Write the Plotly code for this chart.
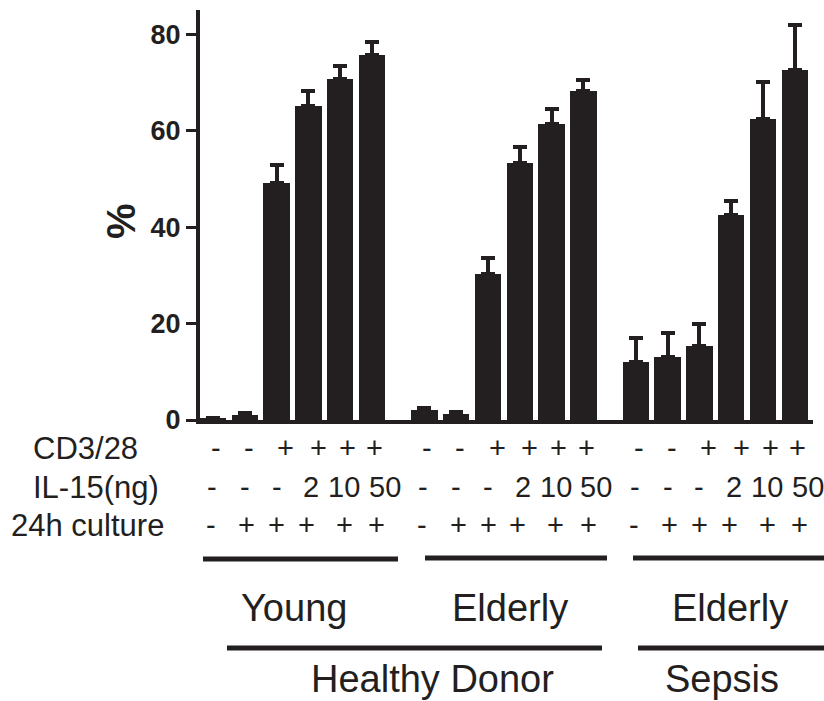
import plotly.graph_objects as go

# ---- data ----
groups = ["Young", "Elderly", "Elderly"]
values = [0.4, 1.0, 49.2, 65.1, 70.6, 75.6,
          2.0, 1.3, 30.3, 53.2, 61.4, 68.2,
          12.1, 13.1, 15.4, 42.4, 62.3, 72.5]
err_up = [0.0, 0.5, 3.6, 3.2, 2.8, 2.7,
          0.5, 0.4, 3.2, 3.5, 3.1, 2.3,
          4.9, 4.9, 4.4, 2.9, 7.7, 9.3]
cd3_row = ["-", "-", "+", "+", "+", "+"] * 3
il15_row = ["-", "-", "-", "2", "10", "50"] * 3
culture_row = ["-", "+", "+", "+", "+", "+"] * 3
row_labels = ["CD3/28", "IL-15(ng)", "24h culture"]
y_ticks = [0, 20, 40, 60, 80]
donor_labels = ["Healthy Donor", "Sepsis"]

# ---- layout helpers ----
GROUP_STEP = 6.65
x_pos = [g * GROUP_STEP + j for g in range(3) for j in range(6)]

W, H = 824, 701
L, T = 200, 10
R = W - 813
B = H - 420
PW, PH = W - L - R, H - T - B
def px(xp):   # page x -> paper
    return (xp - L) / PW
def py(yp):   # page y -> paper
    return (H - B - yp) / PH

INK = "#231f20"
FONT = "Liberation Sans, Arial, sans-serif"

fig = go.Figure()
fig.add_trace(go.Bar(
    x=x_pos, y=values, width=0.83,
    marker=dict(color=INK, line=dict(width=0)),
    error_y=dict(type="data", array=err_up, arrayminus=[0] * len(values),
                 symmetric=False, color=INK, thickness=4, width=7),
    showlegend=False, hoverinfo="skip",
))

ann = []
# row labels
for lab, yp, cx in zip(row_labels, [448, 487.5, 525], [85, 96, 88]):
    ann.append(dict(x=px(cx), y=py(yp), xref="paper", yref="paper", text=lab,
                    showarrow=False, xanchor="center", yanchor="middle",
                    font=dict(family=FONT, size=31, color=INK)))
# table symbols (per-column pixel nudges as in the original typesetting)
row_specs = [
    (cd3_row, 448, [3, 4, 9, 10, 7, 3]),
    (il15_row, 487.5, [-1, 0, 0, 3, 4, 13]),
    (culture_row, 525, [-2, 2, 0, -2, 4, 5]),
]
for row, yp, shifts in row_specs:
    for i, (xv, s) in enumerate(zip(x_pos, row)):
        ann.append(dict(x=xv, y=py(yp), xref="x", yref="paper", text=s,
                        showarrow=False, xanchor="center", yanchor="middle",
                        xshift=shifts[i % 6],
                        font=dict(family=FONT, size=29, color=INK)))
# group labels
for lab, cx in zip(groups, [294, 510, 730]):
    ann.append(dict(x=px(cx), y=py(608), xref="paper", yref="paper", text=lab,
                    showarrow=False, xanchor="center", yanchor="middle",
                    font=dict(family=FONT, size=38, color=INK)))
for lab, cx in zip(donor_labels, [432, 722]):
    ann.append(dict(x=px(cx), y=py(679), xref="paper", yref="paper", text=lab,
                    showarrow=False, xanchor="center", yanchor="middle",
                    font=dict(family=FONT, size=38, color=INK)))
# y title
ann.append(dict(x=px(121), y=py(221), xref="paper", yref="paper", text="%",
                showarrow=False, textangle=-90, xanchor="center", yanchor="middle",
                font=dict(family=FONT, size=40, color=INK, weight="bold")))

shapes = []
for x0, x1, yp in [(203, 398, 559), (425, 607, 558), (633, 830, 558),
                   (227, 602, 648), (638, 830, 648)]:
    shapes.append(dict(type="line", xref="paper", yref="paper",
                       x0=px(x0), x1=px(x1), y0=py(yp), y1=py(yp),
                       line=dict(color=INK, width=5)))

fig.update_layout(
    width=W, height=H,
    margin=dict(l=L, r=R, t=T, b=B, pad=0),
    paper_bgcolor="white", plot_bgcolor="white",
    annotations=ann, shapes=shapes,
    xaxis=dict(range=[(200 - 213) / 31.8, 18.87], showgrid=False, zeroline=False,
               showticklabels=False, ticks="", showline=True, linewidth=4,
               linecolor=INK),
    yaxis=dict(range=[0, 85], tickvals=y_ticks, ticktext=[str(v) for v in y_ticks],
               showgrid=False, zeroline=False, showline=True, linewidth=4,
               linecolor=INK, ticks="outside", ticklen=10, tickwidth=3,
               tickcolor=INK,
               tickfont=dict(family=FONT, size=27, color=INK, weight="bold")),
    bargap=0,
)

fig.write_html("out.html", config={"displayModeBar": False},
               post_script="document.body.style.margin='0';"
                           "document.documentElement.style.overflow='hidden';"
                           "document.body.style.overflow='hidden';")
